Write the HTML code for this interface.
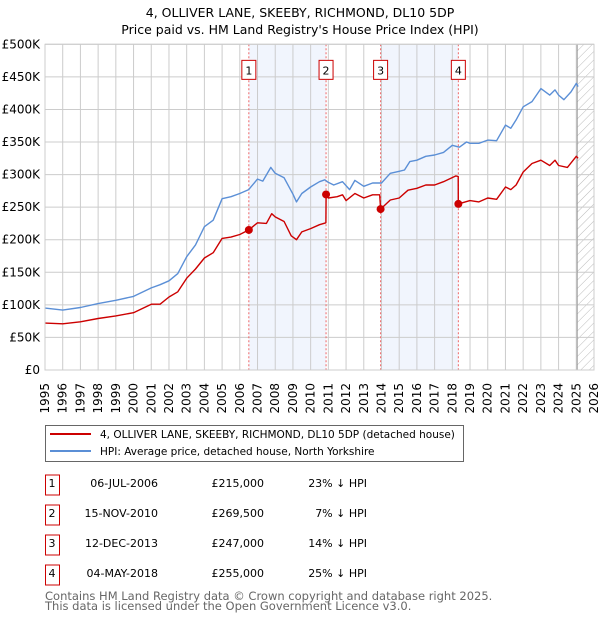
<!DOCTYPE html>
<html><head><meta charset="utf-8"><style>
body{margin:0;background:#fff;}
svg{display:block;font-family:"DejaVu Sans","Liberation Sans",sans-serif;}
</style></head><body>
<svg id="chart" width="600" height="620" viewBox="0 0 600 620" xmlns="http://www.w3.org/2000/svg">
<text x="300" y="17" text-anchor="middle" font-size="12.5" fill="#000">4, OLLIVER LANE, SKEEBY, RICHMOND, DL10 5DP</text>
<text x="300" y="34" text-anchor="middle" font-size="12.5" fill="#000">Price paid vs. HM Land Registry's House Price Index (HPI)</text>
<g id="plot"></g>
<g>
<rect x="45.5" y="425.5" width="418" height="36" fill="#fff" stroke="#666"/>
<line x1="50" y1="434" x2="91" y2="434" stroke="#cc0000" stroke-width="2"/>
<text x="100" y="438" font-size="10.5" fill="#000">4, OLLIVER LANE, SKEEBY, RICHMOND, DL10 5DP (detached house)</text>
<line x1="50" y1="451" x2="91" y2="451" stroke="#5b8fd6" stroke-width="2"/>
<text x="100" y="455" font-size="10.5" fill="#000">HPI: Average price, detached house, North Yorkshire</text>
</g>
<g id="table" font-size="11" fill="#000"></g>
<text x="45" y="600" font-size="11.5" fill="#666">Contains HM Land Registry data © Crown copyright and database right 2025.</text>
<text x="45" y="610" font-size="11.5" fill="#666">This data is licensed under the Open Government Licence v3.0.</text>
</svg>
<script>
const hpiYears=[1995,1996,1997,1998,1999,2000,2001,2001.5,2002,2002.5,2003,2003.5,2004,2004.5,2005,2005.5,2006,2006.5,2007,2007.3,2007.75,2008,2008.5,2009,2009.2,2009.5,2010,2010.5,2010.8,2011,2011.3,2011.8,2012.2,2012.5,2013,2013.5,2014,2014.5,2015,2015.3,2015.6,2016,2016.5,2017,2017.5,2018,2018.4,2018.8,2019,2019.5,2020,2020.5,2021,2021.3,2021.6,2022,2022.5,2023,2023.5,2023.8,2024,2024.3,2024.7,2025,2025.1];
const hpiValues=[95,92,96,102,107,113,126,131,137,148,174,192,220,230,263,266,271,277,293,290,311,302,295,270,258,271,281,289,292,288,284,289,277,291,282,287,287,302,305,307,320,322,328,330,334,345,342,350,348,348,353,352,376,371,384,404,412,432,422,430,422,415,427,440,435];
const propYears=[1995,1996,1997,1998,1999,2000,2001,2001.5,2002,2002.5,2003,2003.5,2004,2004.5,2005,2005.5,2006,2006.51,2007,2007.5,2007.8,2008,2008.5,2008.9,2009.2,2009.5,2010,2010.5,2010.86,2010.87,2011,2011.5,2011.8,2012,2012.5,2013,2013.5,2013.9,2013.95,2014.5,2015,2015.5,2016,2016.5,2017,2017.5,2018.2,2018.33,2018.34,2019,2019.5,2020,2020.5,2021,2021.3,2021.6,2022,2022.5,2023,2023.5,2023.8,2024,2024.5,2025,2025.1];
const propValues=[72,71,74,79,83,88,101,101,112,120,141,155,172,180,202,204,208,215,226,225,240,235,228,206,200,212,217,223,226,269.5,264,266,269,260,271,264,269,269,247,261,264,276,279,284,284,289,298,297,255,260,258,264,262,281,277,284,304,317,322,314,322,314,311,328,325];
const saleYears=[2006.51,2010.87,2013.95,2018.34];
const saleValues=[215,269.5,247,255];
const saleLabels=["1","2","3","4"];
const saleDates=["06-JUL-2006","15-NOV-2010","12-DEC-2013","04-MAY-2018"];
const salePrices=["£215,000","£269,500","£247,000","£255,000"];
const salePcts=["23% ↓ HPI","7% ↓ HPI","14% ↓ HPI","25% ↓ HPI"];
const yTicks=[0,50,100,150,200,250,300,350,400,450,500];
const yTickLabels=["£0","£50K","£100K","£150K","£200K","£250K","£300K","£350K","£400K","£450K","£500K"];
const xTicks=[1995,1996,1997,1998,1999,2000,2001,2002,2003,2004,2005,2006,2007,2008,2009,2010,2011,2012,2013,2014,2015,2016,2017,2018,2019,2020,2021,2022,2023,2024,2025,2026];

const L=45,R=594,T=44.3,B=370;
const X=y=>L+(y-1995)/(2026-1995)*(R-L);
const Y=v=>B-v/500*(B-T);
const NS="http://www.w3.org/2000/svg";
const plot=document.getElementById('plot');
function mk(tag,attrs,parent){const e=document.createElementNS(NS,tag);for(const k in attrs)e.setAttribute(k,attrs[k]);(parent||plot).appendChild(e);return e;}

for(let i=0;i<saleYears.length;i+=2){
  const r=mk('rect',{x:X(saleYears[i]),y:T,width:X(saleYears[i+1])-X(saleYears[i]),height:B-T,fill:'#eef3fc',opacity:0.8});
  
  
}
const defs=mk('defs',{});
const pat=mk('pattern',{id:'hatch',width:6,height:6,patternUnits:'userSpaceOnUse',patternTransform:'rotate(45)'},defs);
mk('line',{x1:0,y1:0,x2:0,y2:6,stroke:'#bbb','stroke-width':1},pat);
const hr=mk('rect',{x:X(2025.05),y:T,width:R-X(2025.05),height:B-T,fill:'url(#hatch)'});



xTicks.forEach((t,i)=>{
  const g=mk('line',{x1:X(t),y1:T,x2:X(t),y2:B,stroke:'#ccc','stroke-width':1});
  
  
  const tx=mk('text',{x:0,y:0,transform:`translate(${X(t)+4},383) rotate(-90)`,'text-anchor':'end','font-size':12,fill:'#000'});
  tx.textContent=t;
  
  
});
yTicks.forEach((t,i)=>{
  const g=mk('line',{x1:L,y1:Y(t),x2:R,y2:Y(t),stroke:'#ccc','stroke-width':1});
  
  
  const tx=mk('text',{x:40,y:Y(t)+4,'text-anchor':'end','font-size':12,fill:'#000'});
  tx.textContent=yTickLabels[i];
  
  
});
const vl=mk('line',{x1:X(2025.05),y1:T,x2:X(2025.05),y2:B,stroke:'#999','stroke-width':1});



saleYears.forEach((s,i)=>{
  const l=mk('line',{x1:X(s),y1:T,x2:X(s),y2:B,stroke:'#e66','stroke-width':1,'stroke-dasharray':'2,2'});
  
  
  const bx=mk('rect',{x:X(s)-7,y:Y(460)-10,width:14,height:19,fill:'#fff',stroke:'#c00','stroke-width':1});
  
  
  const t=mk('text',{x:X(s),y:Y(460)+4,'text-anchor':'middle','font-size':11,fill:'#000'});
  t.textContent=saleLabels[i];
  
  
});

function path(xs,vs,color,name){
  const d=xs.map((x,i)=>(i?'L':'M')+X(x).toFixed(1)+','+Y(vs[i]).toFixed(1)).join('');
  const p=mk('path',{d:d,fill:'none',stroke:color,'stroke-width':1.4,'stroke-linejoin':'round'});
  
  
}
path(hpiYears,hpiValues,'#5b8fd6','hpi-line');
path(propYears,propValues,'#cc0000','property-price-line');
saleYears.forEach((s,i)=>{
  const c=mk('circle',{cx:X(s),cy:Y(saleValues[i]),r:4,fill:'#cc0000'});
  
  
});
mk('rect',{x:L,y:T,width:R-L,height:B-T,fill:'none',stroke:'#ccc'});

const tbl=document.getElementById('table');
saleLabels.forEach((lab,i)=>{
  const cy=485+i*30;
  const b=mk('rect',{x:45.5,y:cy-10,width:14,height:20,fill:'#fff',stroke:'#c00'},tbl);
  
  
  const cells=[[52,'middle',lab,'table-row-number'],[158,'end',saleDates[i],'table-date'],[264,'end',salePrices[i],'table-price'],[367,'end',salePcts[i],'table-hpi-diff']];
  cells.forEach(c=>{
    const t=mk('text',{x:c[0],y:cy+2,'text-anchor':c[1]},tbl);
    t.textContent=c[2];
    
    
  });
});
</script>
</body></html>
